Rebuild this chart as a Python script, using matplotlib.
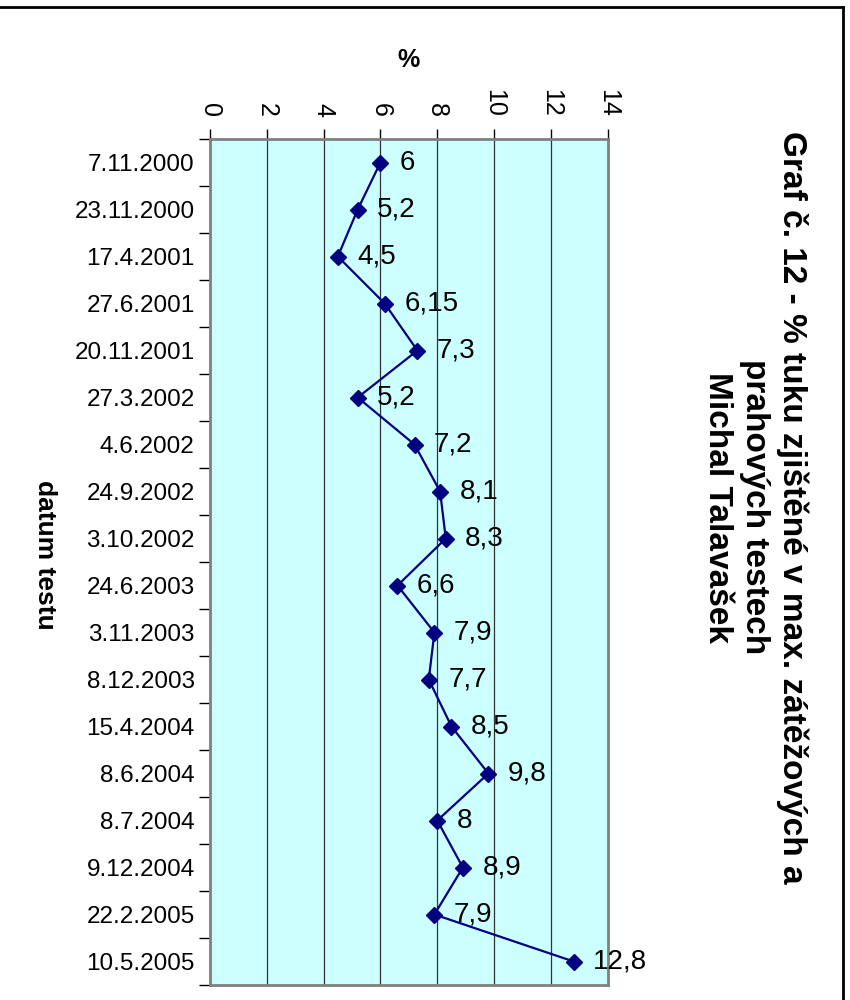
import matplotlib
matplotlib.use("Agg")
import matplotlib.pyplot as plt
from matplotlib.lines import Line2D
import numpy as np

plt.rcParams['font.family'] = ['Liberation Sans', 'DejaVu Sans']

# test dates and fat percentage
dates = ["7.11.2000", "23.11.2000", "17.4.2001", "27.6.2001", "20.11.2001",
         "27.3.2002", "4.6.2002", "24.9.2002", "3.10.2002", "24.6.2003",
         "3.11.2003", "8.12.2003", "15.4.2004", "8.6.2004", "8.7.2004",
         "9.12.2004", "22.2.2005", "10.5.2005"]
fat = [6, 5.2, 4.5, 6.15, 7.3, 5.2, 7.2, 8.1, 8.3, 6.6,
       7.9, 7.7, 8.5, 9.8, 8, 8.9, 7.9, 12.8]
x_ticks = [0, 2, 4, 6, 8, 10, 12, 14]

fig = plt.figure(figsize=(8.5, 10), dpi=100)
ax = fig.add_axes([0.247, 0.015, 0.468, 0.846])
ax.set_facecolor('#CCFFFF')

pos = np.arange(len(dates))
ax.plot(fat, pos, color='#000080', lw=1.6, marker='D', ms=8, zorder=3)
for v, p in zip(fat, pos):
    ax.annotate(f"{v:g}".replace('.', ','), (v, p), xytext=(14, 0),
                textcoords='offset points', va='center', ha='left', fontsize=20,
                annotation_clip=False)

ax.set_xlim(0, 14)
ax.set_ylim(len(dates) - 0.5, -0.5)

ax.xaxis.tick_top()
ax.xaxis.set_label_position('top')
ax.set_xticks(x_ticks)
ax.set_xticklabels([str(t) for t in x_ticks], rotation=270, fontsize=18)
ax.tick_params(axis='x', direction='out', length=7, width=1, pad=9)
ax.set_xlabel('%', fontsize=18, fontweight='bold', labelpad=16)
ax.grid(axis='x', color='#333333', lw=0.9)

ax.set_yticks(pos)
ax.set_yticklabels(dates, fontsize=17.5)
ax.set_yticks(np.arange(len(dates) + 1) - 0.5, minor=True)
ax.tick_params(axis='y', which='major', length=0, pad=11)
ax.tick_params(axis='y', which='minor', length=8, width=1, direction='out')

for s in ax.spines.values():
    s.set_color('#808080')
    s.set_linewidth(2)

fig.text(0.053, 0.445, 'datum testu', rotation=270, fontsize=19, fontweight='bold',
         ha='center', va='center')
fig.text(0.888, 0.493, 'Graf č. 12 - % tuku zjištěné v max. zátěžových a\nprahových testech\nMichal Talavašek',
         rotation=270, fontsize=24, fontweight='bold', ha='center', va='center',
         multialignment='center', linespacing=1.25)

# outer chart frame
fig.add_artist(Line2D([0, 0.992], [0.9935, 0.9935], color='black', lw=2))
fig.add_artist(Line2D([0.992, 0.992], [0.9935, 0], color='black', lw=2))

fig.savefig('out.png', dpi=100)
